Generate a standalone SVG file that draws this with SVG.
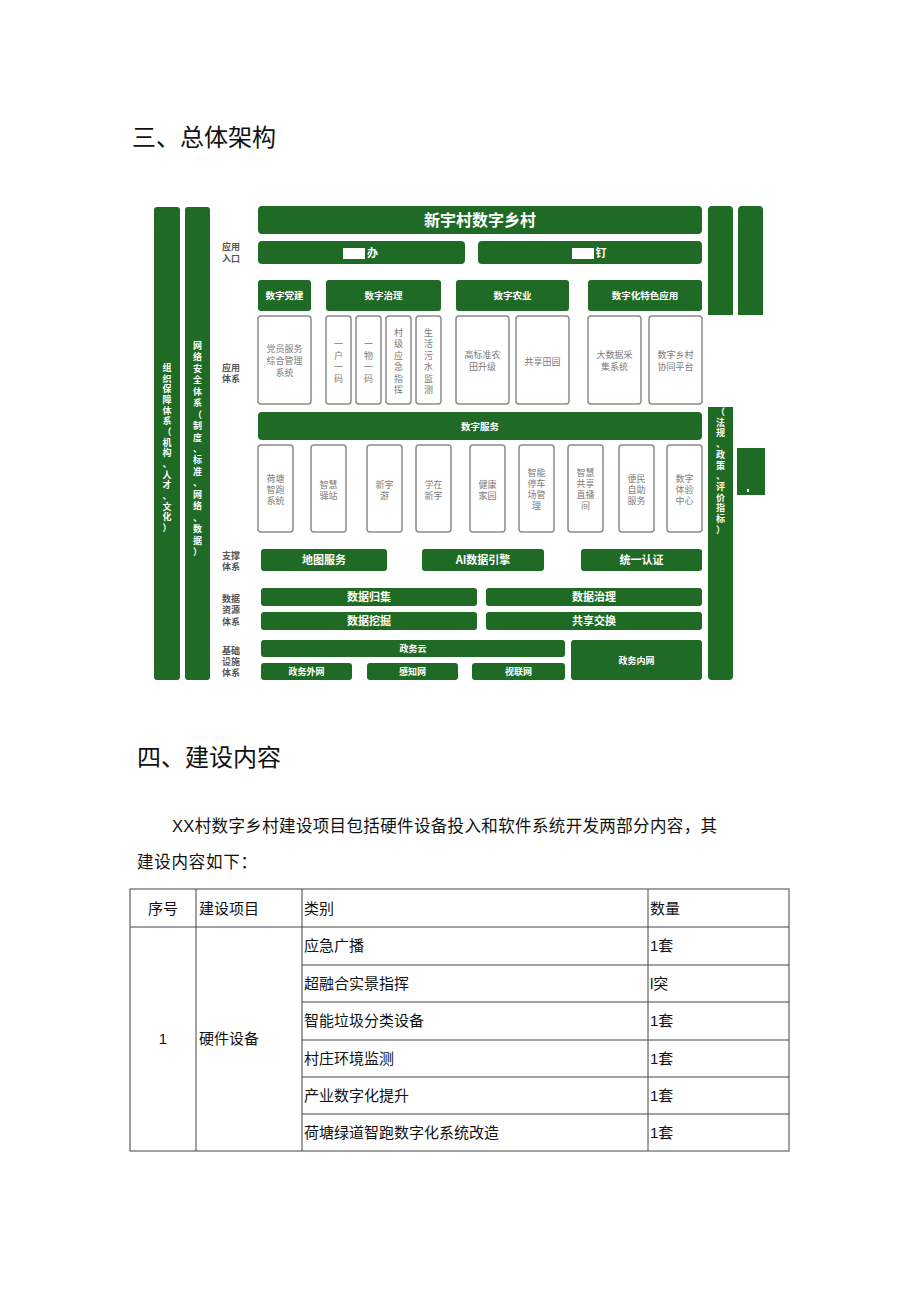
<svg xmlns="http://www.w3.org/2000/svg" width="920" height="1301" viewBox="0 0 920 1301">
<style>
.g{fill:#1f6b25}
.ob{fill:#fff;stroke:#8c8c8c;stroke-width:1.5}
.wt{fill:#fff;font-family:"Noto Sans CJK SC",sans-serif;font-weight:bold;text-anchor:middle}
.gt{fill:#7c7c7c;font-family:"Noto Sans CJK SC",sans-serif;font-size:9px;text-anchor:middle}
.lbl{fill:#555;font-family:"Noto Sans CJK SC",sans-serif;font-size:9px;font-weight:bold}
.doc{fill:#111;font-family:"Liberation Sans","Noto Sans CJK SC",sans-serif}
.tl{stroke:#444;stroke-width:1;fill:none}
</style>
<rect width="920" height="1301" fill="#fff"/>

<g id="heading-3"><text class="doc" x="132" y="146" font-size="24">三、总体架构</text></g>

<g id="left-bars">
<rect class="g" x="154" y="207" width="26" height="473" rx="3"/>
<text class="wt" font-size="9" x="167 167 167 167 167 167 167 167 167 167 167 167 167 167 167 167" y="371 381.7 392.3 403 413.7 424.3 435 445.7 456.3 467 477.7 488.3 499 509.7 520.3 531">组织保障体系（机构、人才、文化）</text>
<rect class="g" x="185" y="207" width="25" height="473" rx="3"/>
<text class="wt" font-size="9" x="197.5 197.5 197.5 197.5 197.5 197.5 197.5 197.5 197.5 197.5 197.5 197.5 197.5 197.5 197.5 197.5 197.5 197.5 197.5" y="349 360.4 371.9 383.3 394.8 406.2 417.6 429.1 440.5 452 463.4 474.8 486.3 497.7 509.2 520.6 532 543.5 555">网络安全体系（制度、标准、网络、数据）</text>
</g>

<g id="right-bars">
<path class="g" d="M708,315 V210 Q708,206 712,206 H729 Q733,206 733,210 V315 Z"/>
<path class="g" d="M738,315 V210 Q738,206 742,206 H759 Q763,206 763,210 V315 Z"/>
<path class="g" d="M708,407 H733 V676 Q733,680 729,680 H712 Q708,680 708,676 Z"/>
<text class="wt" font-size="9" x="720.5 720.5 720.5 720.5 720.5 720.5 720.5 720.5 720.5 720.5 720.5 720.5" y="415 425.7 436.4 447.1 457.8 468.5 479.2 489.9 500.6 511.3 522 532.7">（法规、政策、评价指标）</text>
<rect class="g" x="737" y="448" width="28" height="47"/>
<rect x="747" y="489" width="2" height="3" fill="#fff"/>
</g>

<g id="title">
<rect class="g" x="258" y="206" width="444" height="28" rx="4"/>
<text class="wt" x="480" y="226" font-size="16">新宇村数字乡村</text>
</g>

<g id="labels">
<text class="lbl" x="222" y="250">应用</text><text class="lbl" x="222" y="262">入口</text>
<text class="lbl" x="222" y="371">应用</text><text class="lbl" x="222" y="382">体系</text>
<text class="lbl" x="222" y="559">支撑</text><text class="lbl" x="222" y="569.5">体系</text>
<text class="lbl" x="222" y="602">数据</text><text class="lbl" x="222" y="613">资源</text><text class="lbl" x="222" y="624.5">体系</text>
<text class="lbl" x="222" y="654">基础</text><text class="lbl" x="222" y="665">设施</text><text class="lbl" x="222" y="676">体系</text>
</g>

<g id="entry-ban">
<rect class="g" x="258" y="241" width="207" height="23" rx="4"/>
<rect x="343" y="248" width="22" height="11" fill="#fff"/>
<text class="wt" x="372.5" y="257" font-size="11">办</text>
</g>
<g id="entry-ding">
<rect class="g" x="478" y="241" width="224" height="23" rx="4"/>
<rect x="572" y="248" width="22" height="11" fill="#fff"/>
<text class="wt" x="601" y="257" font-size="11">钉</text>
</g>

<g id="hdr-dangjian"><rect class="g" x="258" y="280" width="53" height="31" rx="3"/><text class="wt" x="284.5" y="299" font-size="9.5">数字党建</text></g>
<g id="hdr-zhili"><rect class="g" x="326" y="280" width="115" height="31" rx="3"/><text class="wt" x="383.5" y="299" font-size="9.5">数字治理</text></g>
<g id="hdr-nongye"><rect class="g" x="456" y="280" width="113" height="31" rx="3"/><text class="wt" x="512.5" y="299" font-size="9.5">数字农业</text></g>
<g id="hdr-tese"><rect class="g" x="588" y="280" width="114" height="31" rx="3"/><text class="wt" x="645" y="299" font-size="9.5">数字化特色应用</text></g>

<g id="app-dangyuan"><rect class="ob" x="258" y="316" width="53" height="88" rx="3"/>
<text class="gt" x="284.5" y="352">党员服务</text><text class="gt" x="284.5" y="364">综合管理</text><text class="gt" x="284.5" y="376">系统</text></g>
<g id="app-yihu"><rect class="ob" x="326" y="316" width="25" height="88" rx="3"/>
<text class="gt" x="338.5 338.5 338.5 338.5" y="347 358.5 370 381.5">一户一码</text></g>
<g id="app-yiwu"><rect class="ob" x="356" y="316" width="25" height="88" rx="3"/>
<text class="gt" x="368.5 368.5 368.5 368.5" y="347 358.5 370 381.5">一物一码</text></g>
<g id="app-yingji"><rect class="ob" x="386" y="316" width="25" height="88" rx="3"/>
<text class="gt" x="398.5 398.5 398.5 398.5 398.5 398.5" y="336 347.4 358.8 370.2 381.6 393">村级应急指挥</text></g>
<g id="app-wushui"><rect class="ob" x="416" y="316" width="25" height="88" rx="3"/>
<text class="gt" x="428.5 428.5 428.5 428.5 428.5 428.5" y="336 347.4 358.8 370.2 381.6 393">生活污水监测</text></g>
<g id="app-gaobiao"><rect class="ob" x="456" y="316" width="53" height="88" rx="3"/>
<text class="gt" x="482.5" y="358">高标准农</text><text class="gt" x="482.5" y="369.5">田升级</text></g>
<g id="app-gongxiang"><rect class="ob" x="516" y="316" width="53" height="88" rx="3"/>
<text class="gt" x="542.5" y="365">共享田园</text></g>
<g id="app-dashuju"><rect class="ob" x="588" y="316" width="53" height="88" rx="3"/>
<text class="gt" x="614.5" y="358">大数据采</text><text class="gt" x="614.5" y="369.5">集系统</text></g>
<g id="app-xietong"><rect class="ob" x="649" y="316" width="53" height="88" rx="3"/>
<text class="gt" x="675.5" y="358">数字乡村</text><text class="gt" x="675.5" y="369.5">协同平台</text></g>

<g id="svc-bar"><rect class="g" x="258" y="412" width="444" height="28" rx="4"/><text class="wt" x="480" y="429.5" font-size="9.5">数字服务</text></g>

<g id="svc-hetang"><rect class="ob" x="258" y="445" width="35" height="87" rx="3"/>
<text class="gt" x="275.5" y="482">荷塘</text><text class="gt" x="275.5" y="493">智跑</text><text class="gt" x="275.5" y="504">系统</text></g>
<g id="svc-yizhan"><rect class="ob" x="311" y="445" width="35" height="87" rx="3"/>
<text class="gt" x="328.5" y="487.5">智慧</text><text class="gt" x="328.5" y="498.5">驿站</text></g>
<g id="svc-xinyuyou"><rect class="ob" x="367" y="445" width="35" height="87" rx="3"/>
<text class="gt" x="384.5" y="487.5">新宇</text><text class="gt" x="384.5" y="498.5">游</text></g>
<g id="svc-xuezai"><rect class="ob" x="416" y="445" width="35" height="87" rx="3"/>
<text class="gt" x="433.5" y="487.5">学在</text><text class="gt" x="433.5" y="498.5">新宇</text></g>
<g id="svc-jiankang"><rect class="ob" x="470" y="445" width="35" height="87" rx="3"/>
<text class="gt" x="487.5" y="487.5">健康</text><text class="gt" x="487.5" y="498.5">家园</text></g>
<g id="svc-tingche"><rect class="ob" x="519" y="445" width="35" height="87" rx="3"/>
<text class="gt" x="536.5" y="476">智能</text><text class="gt" x="536.5" y="487">停车</text><text class="gt" x="536.5" y="498">场管</text><text class="gt" x="536.5" y="509">理</text></g>
<g id="svc-zhibo"><rect class="ob" x="568" y="445" width="35" height="87" rx="3"/>
<text class="gt" x="585.5" y="476">智慧</text><text class="gt" x="585.5" y="487">共享</text><text class="gt" x="585.5" y="498">直播</text><text class="gt" x="585.5" y="509">间</text></g>
<g id="svc-bianmin"><rect class="ob" x="619" y="445" width="35" height="87" rx="3"/>
<text class="gt" x="636.5" y="482">便民</text><text class="gt" x="636.5" y="493">自助</text><text class="gt" x="636.5" y="504">服务</text></g>
<g id="svc-tiyan"><rect class="ob" x="667" y="445" width="35" height="87" rx="3"/>
<text class="gt" x="684.5" y="482">数字</text><text class="gt" x="684.5" y="493">体验</text><text class="gt" x="684.5" y="504">中心</text></g>

<g id="sup-ditu"><rect class="g" x="261" y="549" width="126" height="22" rx="3"/><text class="wt" x="324" y="564" font-size="11">地图服务</text></g>
<g id="sup-ai"><rect class="g" x="422" y="549" width="122" height="22" rx="3"/><text class="wt" x="483" y="564" font-size="11">AI数据引擎</text></g>
<g id="sup-renzheng"><rect class="g" x="581" y="549" width="121" height="22" rx="3"/><text class="wt" x="641.5" y="564" font-size="11">统一认证</text></g>

<g id="data-guiji"><rect class="g" x="261" y="588" width="216" height="18" rx="3"/><text class="wt" x="369" y="601" font-size="11">数据归集</text></g>
<g id="data-zhili"><rect class="g" x="486" y="588" width="216" height="18" rx="3"/><text class="wt" x="594" y="601" font-size="11">数据治理</text></g>
<g id="data-wajue"><rect class="g" x="261" y="612" width="216" height="18" rx="3"/><text class="wt" x="369" y="625" font-size="11">数据挖掘</text></g>
<g id="data-jiaohuan"><rect class="g" x="486" y="612" width="216" height="18" rx="3"/><text class="wt" x="594" y="625" font-size="11">共享交换</text></g>

<g id="inf-yun"><rect class="g" x="261" y="640" width="304" height="17" rx="3"/><text class="wt" x="413" y="652" font-size="9">政务云</text></g>
<g id="inf-neiwang"><rect class="g" x="571" y="640" width="131" height="40" rx="3"/><text class="wt" x="636.5" y="663.5" font-size="9">政务内网</text></g>
<g id="inf-waiwang"><rect class="g" x="261" y="663" width="91" height="17" rx="3"/><text class="wt" x="306.5" y="675" font-size="9">政务外网</text></g>
<g id="inf-ganzhi"><rect class="g" x="367" y="663" width="91" height="17" rx="3"/><text class="wt" x="412.5" y="675" font-size="9">感知网</text></g>
<g id="inf-shilian"><rect class="g" x="472" y="663" width="93" height="17" rx="3"/><text class="wt" x="518.5" y="675" font-size="9">视联网</text></g>

<g id="heading-4"><text class="doc" x="137" y="766" font-size="24">四、建设内容</text></g>
<g id="paragraph">
<text class="doc" x="172" y="832" font-size="16.5" textLength="545" lengthAdjust="spacing">XX村数字乡村建设项目包括硬件设备投入和软件系统开发两部分内容，其</text>
<text class="doc" x="137" y="868" font-size="16.5" textLength="120" lengthAdjust="spacing">建设内容如下：</text>
</g>

<g id="table">
<rect class="tl" x="130" y="889" width="659" height="262"/>
<line class="tl" x1="196" y1="889" x2="196" y2="1151"/>
<line class="tl" x1="302" y1="889" x2="302" y2="1151"/>
<line class="tl" x1="648" y1="889" x2="648" y2="1151"/>
<line class="tl" x1="130" y1="927" x2="789" y2="927"/>
<line class="tl" x1="302" y1="965" x2="789" y2="965"/>
<line class="tl" x1="302" y1="1002" x2="789" y2="1002"/>
<line class="tl" x1="302" y1="1040" x2="789" y2="1040"/>
<line class="tl" x1="302" y1="1077" x2="789" y2="1077"/>
<line class="tl" x1="302" y1="1114" x2="789" y2="1114"/>
<text class="doc" x="163" y="914" font-size="15" text-anchor="middle">序号</text>
<text class="doc" x="199" y="914" font-size="15">建设项目</text>
<text class="doc" x="304" y="914" font-size="15">类别</text>
<text class="doc" x="650" y="914" font-size="15">数量</text>
<text class="doc" x="163" y="1044" font-size="15" text-anchor="middle">1</text>
<text class="doc" x="199" y="1044" font-size="15">硬件设备</text>
<text class="doc" x="304" y="951" font-size="15">应急广播</text><text class="doc" x="650" y="951" font-size="15">1套</text>
<text class="doc" x="304" y="988.5" font-size="15">超融合实景指挥</text><text class="doc" x="650" y="988.5" font-size="15">l突</text>
<text class="doc" x="304" y="1026" font-size="15">智能垃圾分类设备</text><text class="doc" x="650" y="1026" font-size="15">1套</text>
<text class="doc" x="304" y="1063.5" font-size="15">村庄环境监测</text><text class="doc" x="650" y="1063.5" font-size="15">1套</text>
<text class="doc" x="304" y="1100.5" font-size="15">产业数字化提升</text><text class="doc" x="650" y="1100.5" font-size="15">1套</text>
<text class="doc" x="304" y="1137.5" font-size="15">荷塘绿道智跑数字化系统改造</text><text class="doc" x="650" y="1137.5" font-size="15">1套</text>
</g>
</svg>
